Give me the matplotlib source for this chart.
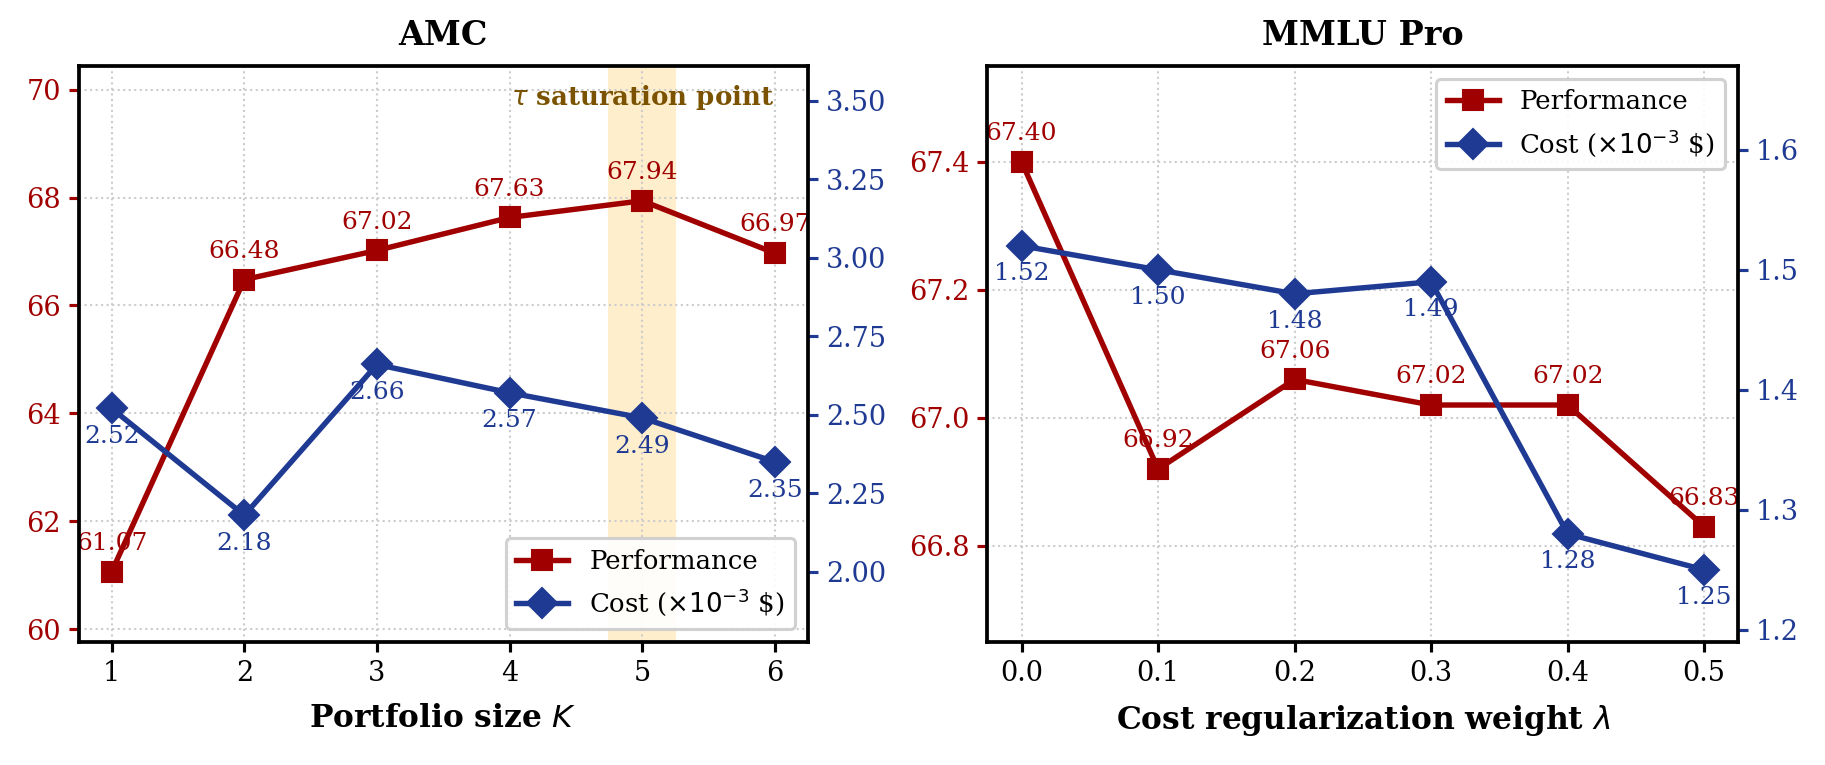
import numpy as np
import matplotlib
matplotlib.use('Agg')
import matplotlib.pyplot as plt

# --------------------------- Data ---------------------------
amc_k = [1, 2, 3, 4, 5, 6]
amc_perf = [61.07, 66.48, 67.02, 67.63, 67.94, 66.97]
amc_cost = [2.52, 2.18, 2.66, 2.57, 2.49, 2.35]

mmlu_lambda = [0.0, 0.1, 0.2, 0.3, 0.4, 0.5]
mmlu_perf = [67.40, 66.92, 67.06, 67.02, 67.02, 66.83]
mmlu_cost = [1.52, 1.50, 1.48, 1.49, 1.28, 1.25]

RED = '#a00000'
BLUE = '#1f3a93'
TAU = '#7a5200'

plt.rcParams['font.family'] = 'DejaVu Serif'
plt.rcParams['mathtext.fontset'] = 'dejavusans'

fig, axes = plt.subplots(1, 2, figsize=(12.173, 5.1), dpi=150)


def draw_panel(ax, pos, x, perf, cost, title, xlabel, perf_ylim, cost_ylim, xlim,
               legend_loc, cost_ticks):
    ax2 = ax.twinx()
    ax.set_position(pos)
    ax2.set_position(pos)
    l1, = ax.plot(x, perf, color=RED, marker='s', ms=10, lw=2.6, label='Performance', zorder=3)
    l2, = ax2.plot(x, cost, color=BLUE, marker='D', ms=10, lw=2.6, label=r'Cost ($\times10^{-3}$ \$)', zorder=3)
    for xi, p in zip(x, perf):
        ax.annotate(f'{p:.2f}', (xi, p), xytext=(0, 8), textcoords='offset points',
                    ha='center', va='bottom', color=RED, fontsize=12)
    for xi, c in zip(x, cost):
        ax2.annotate(f'{c:.2f}', (xi, c), xytext=(0, -8), textcoords='offset points',
                     ha='center', va='top', color=BLUE, fontsize=12)
    ax.set_ylim(*perf_ylim)
    ax2.set_ylim(*cost_ylim)
    ax2.set_yticks(cost_ticks)
    ax.set_xlim(*xlim)
    ax.set_xticks(x)
    ax.set_title(title, fontsize=16, fontweight='bold', pad=10)
    ax.set_xlabel(xlabel, fontsize=15, fontweight='bold', labelpad=8)
    ax.grid(True, linestyle=':', color='#cccccc', lw=1)
    ax.tick_params(axis='y', colors=RED, labelsize=13, width=1.5, length=5)
    ax.tick_params(axis='x', labelsize=13, width=1.5, length=5)
    ax2.tick_params(axis='y', colors=BLUE, labelsize=13, width=1.5, length=5)
    for sp in ax2.spines.values():
        sp.set_linewidth(1.8)
    leg = ax2.legend(handles=[l1, l2], loc=legend_loc, fontsize=12.5, framealpha=0.9,
                     edgecolor='#cccccc', fancybox=True)
    leg.get_frame().set_linewidth(1.5)
    return ax2


ax_a = axes[0]
ax_a.axvspan(4.75, 5.25, color='#ffeecc', zorder=0)
ax_a.text(5, 69.85, r'$\tau$ saturation point', ha='center', va='center',
          color=TAU, fontsize=12.5, fontweight='bold')
draw_panel(ax_a, [0.043, 0.161, 0.3995, 0.753], amc_k, amc_perf, amc_cost, 'AMC',
           r'Portfolio size $K$', (59.77, 70.44), (1.777, 3.611), (0.75, 6.25),
           'lower right', [2.00, 2.25, 2.50, 2.75, 3.00, 3.25, 3.50])
ax_a.set_yticks([60, 62, 64, 66, 68, 70])

ax_m = axes[1]
ax2_m = draw_panel(ax_m, [0.5408, 0.161, 0.4112, 0.753], mmlu_lambda, mmlu_perf, mmlu_cost,
                   'MMLU Pro', r'Cost regularization weight $\lambda$',
                   (66.65, 67.55), (1.19, 1.67), (-0.025, 0.525), 'upper right',
                   [1.2, 1.3, 1.4, 1.5, 1.6])
ax_m.set_yticks([66.8, 67.0, 67.2, 67.4])
ax_m.set_xticklabels([f'{v:.1f}' for v in mmlu_lambda])
ax2_m.set_yticklabels([f'{v:.1f}' for v in [1.2, 1.3, 1.4, 1.5, 1.6]])

fig.savefig('out.png', dpi=150)
